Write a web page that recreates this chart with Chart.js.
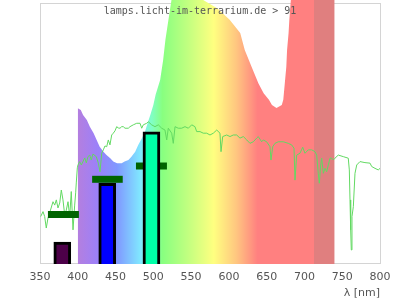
<!DOCTYPE html>
<html>
<head>
<meta charset="utf-8">
<script src="https://cdn.jsdelivr.net/npm/chart.js@4.4.1/dist/chart.umd.min.js"></script>
<style>
  html, body { margin: 0; padding: 0; background: #fff; }
  canvas { display: block; }
</style>
</head>
<body>
<canvas id="spektrum" width="400" height="300"></canvas>
<script>
// Lampenspektrum (relativ, 100 = Oberkante des Rahmens)
const lampNm = [400, 404, 407, 412, 416, 421, 425, 429, 434, 438,
  443, 447, 452, 458, 462, 467, 471, 476, 480, 485,
  489, 493, 496, 500, 503, 509, 513, 516, 520, 524,
  532, 548, 560, 566, 585, 601, 615, 621, 630, 639,
  646, 653, 657, 663, 670, 672, 674, 676, 677, 679,
  680, 682, 690, 710, 740];
const lampVal = [59.8, 59.1, 57.2, 55.3, 52.7, 50.2, 47.6, 45.0, 43.1, 41.8,
  40.6, 39.3, 38.7, 38.7, 39.3, 39.9, 41.2, 43.1, 45.7, 48.3,
  50.8, 54.6, 57.2, 61.0, 64.9, 70.6, 78.3, 86.0, 93.7, 101.3,
  110, 116, 110, 101.3, 98, 93.7, 88.6, 82.1, 75.7, 69.4,
  65.5, 63.0, 61.0, 59.9, 61.0, 63.0, 69.4, 75.7, 82.1, 88.6,
  93.7, 101.3, 112, 118, 112];

// Sonnenspektrum
const sunNm = [350.9, 354.0, 356.2, 358.3, 360.6, 362.8, 367.2, 369.5, 371.6, 373.8,
  376.1, 378.2, 380.4, 382.7, 384.8, 387.1, 389.3, 391.4, 393.7, 395.9,
  397.2, 398.0, 399.4, 400.3, 402.5, 404.7, 409.2, 411.3, 413.5, 415.8,
  417.9, 420.1, 424.5, 427.2, 429.4, 431.7, 433.8, 436.0, 438.3, 440.4,
  442.6, 444.9, 447.0, 449.3, 451.5, 453.6, 455.9, 458.1, 460.2, 462.5,
  466.9, 469.1, 473.5, 478.0, 482.4, 484.6, 486.7, 491.2, 493.3, 497.8,
  502.2, 506.6, 511.1, 515.4, 517.7, 519.8, 524.3, 526.4, 528.7, 533.0,
  537.5, 541.9, 546.3, 550.8, 555.1, 557.4, 561.8, 566.1, 570.6, 575.0,
  579.4, 583.9, 588.2, 589.6, 591.8, 597.1, 601.5, 605.8, 610.3, 614.7,
  619.1, 623.6, 627.9, 632.3, 636.8, 638.9, 643.4, 645.5, 650.0, 654.4,
  655.7, 658.0, 661.0, 665.4, 672.0, 678.6, 683.1, 686.2, 687.5, 689.7,
  694.1, 697.7, 700.7, 705.1, 709.6, 714.0, 716.2, 718.3, 719.7, 721.5,
  722.8, 725.0, 727.2, 729.4, 731.6, 733.8, 736.1, 738.2, 740.4, 744.8,
  751.4, 758.0, 759.4, 760.3, 761.2, 762.0, 762.9, 764.7, 766.9, 769.2,
  773.5, 780.1, 786.8, 789.0, 793.4, 797.7, 800.0];
const sunVal = [18.2, 20.1, 18.2, 13.8, 17.7, 19.6, 23.9, 22.6, 24.6, 21.5,
  23.4, 28.4, 24.6, 18.8, 20.7, 23.9, 18.2, 27.8, 13.1, 22.6,
  27.3, 31.1, 36.9, 38.0, 39.3, 38.0, 40.7, 38.8, 41.2, 41.8,
  39.9, 42.2, 41.2, 38.7, 35.4, 42.5, 43.8, 45.3, 45.0, 47.6,
  45.7, 49.5, 50.2, 51.1, 52.7, 52.2, 52.1, 52.7, 52.7, 52.1,
  52.1, 52.7, 53.4, 54.0, 54.0, 52.1, 53.4, 54.0, 54.6, 53.4,
  52.7, 53.4, 52.1, 51.4, 47.6, 52.1, 50.2, 46.3, 52.7, 52.1,
  52.1, 52.7, 52.1, 53.4, 52.7, 50.8, 50.8, 50.2, 50.2, 49.5,
  50.2, 51.4, 50.2, 43.1, 48.9, 49.5, 48.9, 49.5, 49.5, 48.3,
  48.9, 47.6, 46.3, 46.9, 48.3, 48.9, 46.9, 47.6, 46.9, 45.0,
  39.9, 45.0, 46.3, 46.9, 46.9, 46.3, 45.7, 44.4, 32.2, 41.8,
  42.5, 44.8, 42.5, 43.8, 43.8, 43.1, 41.8, 34.8, 31.0, 38.0,
  40.6, 34.8, 36.7, 35.4, 38.0, 40.6, 40.6, 39.9, 40.6, 41.8,
  41.2, 40.6, 36.1, 24.6, 13.1, 5.4, 18.2, 22.0, 34.8, 38.0,
  39.3, 38.9, 38.7, 37.4, 36.7, 36.1, 36.7];

// Balken (UV, blau, tuerkis)
const barNm = [379.5, 439, 497.5];
const barVal = [8.4, 31, 50.7];

// dunkelgruene Markierungen
const markFrom = [360.5, 419, 477];
const markTo = [401.5, 459.5, 518];
const markVal = [19, 32.5, 37.6];

const xTicks = [350, 400, 450, 500, 550, 600, 650, 700, 750, 800];

// Farben
const barColors = ['#4d0049', '#0000ff', '#00ffa8'];
const rainbow = [
  [400, '#b47fdf'], [425, '#9d80f8'], [452, '#8098ff'], [483, '#80e8ff'],
  [498, '#80ffc4'], [512, '#88ff80'], [545, '#c0ff80'], [580, '#ffff80'],
  [610, '#ffc680'], [638, '#ff8080'], [712, '#ff8080'], [712.5, '#e07f7f'],
  [740, '#e07f7f']
];

function spectrumFill(context) {
  const chart = context.chart;
  if (!chart.chartArea) return null;
  const x = chart.scales.x;
  const g = chart.ctx.createLinearGradient(x.getPixelForValue(350), 0, x.getPixelForValue(800), 0);
  rainbow.forEach(([nm, c]) => g.addColorStop((nm - 350) / 450, c));
  return g;
}

// Rahmen und Titel
const rahmen = {
  id: 'rahmen',
  beforeDatasetsDraw(chart) {
    const { ctx, chartArea: a, scales: { y } } = chart;
    const top = Math.round(y.getPixelForValue(100)) + 0.5;
    ctx.save();
    ctx.strokeStyle = '#d4d4d4';
    ctx.lineWidth = 1;
    ctx.strokeRect(a.left + 0.5, top, a.right - a.left, a.bottom - 0.5 - top);
    ctx.restore();
  },
  afterDatasetsDraw(chart) {
    const ctx = chart.ctx;
    ctx.save();
    ctx.fillStyle = '#555';
    ctx.font = '10px "DejaVu Sans Mono"';
    ctx.textAlign = 'center';
    ctx.textBaseline = 'middle';
    ctx.fillText('lamps.licht-im-terrarium.de > 91', 200, 11);
    ctx.restore();
  }
};

const datasets = [];
datasets.push({
  type: 'bar',
  data: barNm.map((v, i) => ({ x: v, y: barVal[i] })),
  backgroundColor: barColors,
  borderColor: '#000',
  borderWidth: 3,
  barThickness: 17,
  order: 0
});
markFrom.forEach((f, i) => {
  datasets.push({
    type: 'line',
    data: [{ x: f, y: markVal[i] }, { x: markTo[i], y: markVal[i] }],
    borderColor: '#006400',
    borderWidth: 7,
    borderCapStyle: 'butt',
    pointRadius: 0,
    order: 1
  });
});
datasets.push({
  type: 'line',
  data: sunNm.map((v, i) => ({ x: v, y: sunVal[i] })),
  borderColor: '#62d962',
  borderWidth: 1,
  pointRadius: 0,
  order: 2
});
datasets.push({
  type: 'line',
  data: lampNm.map((v, i) => ({ x: v, y: lampVal[i] })),
  borderColor: 'rgba(0,0,0,0)',
  borderWidth: 0,
  backgroundColor: spectrumFill,
  fill: 'origin',
  pointRadius: 0,
  order: 3
});

new Chart(document.getElementById('spektrum'), {
  type: 'line',
  data: { datasets: datasets },
  options: {
    responsive: false,
    animation: false,
    layout: { padding: { left: 40, right: 20, top: 0, bottom: 0 } },
    plugins: { legend: { display: false }, tooltip: { enabled: false } },
    scales: {
      x: {
        type: 'linear',
        min: 350,
        max: 800,
        offset: false,
        grid: { display: false, drawTicks: false },
        border: { display: false },
        afterBuildTicks: s => { s.ticks = xTicks.map(v => ({ value: v })); },
        afterFit: s => { s.height = 36; },
        ticks: { padding: 7, maxRotation: 0, color: '#555', font: { family: 'DejaVu Sans', size: 11 } },
        title: {
          display: true, text: 'λ [nm]', align: 'end', padding: 0,
          color: '#555', font: { family: 'DejaVu Sans', size: 11 }
        }
      },
      y: { display: false, min: 0, max: 101.3 }
    }
  },
  plugins: [rahmen]
});
</script>
</body>
</html>
